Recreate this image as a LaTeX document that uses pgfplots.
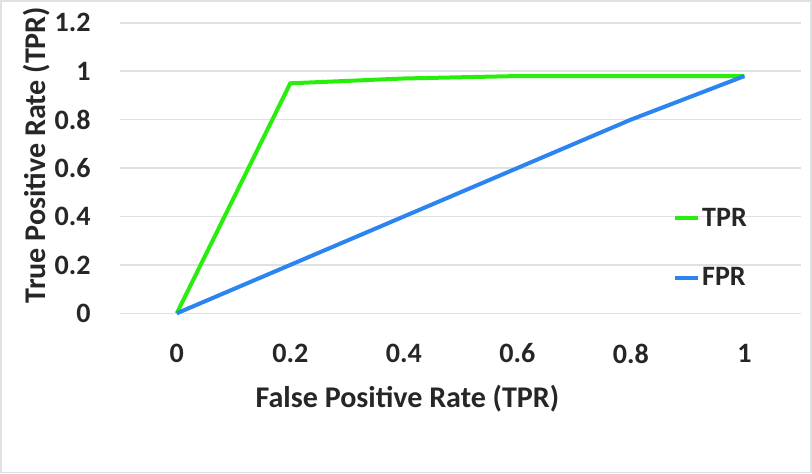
\documentclass[border=0pt]{standalone}
\usepackage{fontspec}
\setmainfont{Carlito}
\usepackage{pgfplots}
\pgfplotsset{compat=1.18}

\definecolor{tprgreen}{RGB}{40,238,12}
\definecolor{fprblue}{RGB}{44,132,240}
\definecolor{gridgray}{RGB}{222,226,226}

\begin{document}
\begin{tikzpicture}
\begin{axis}[
    scale only axis,
    width=340pt, height=145pt,
    xmin=-0.1, xmax=1.1,
    ymin=0, ymax=1.2,
    xtick={0,0.2,0.4,0.6,0.8,1},
    xticklabels={0,0.2,0.4,0.6,0.8,1},
    ytick={0,0.2,0.4,0.6,0.8,1,1.2},
    yticklabels={0,0.2,0.4,0.6,0.8,1,1.2},
    major tick length=0pt,
    axis line style={draw=none},
    ymajorgrids,
    grid style={gridgray, line width=0.75pt},
    tick label style={font=\fontsize{14}{16}\selectfont\bfseries, text=black!85},
    xticklabel style={anchor=north, inner sep=0pt, yshift=-15pt},
    yticklabel style={anchor=east, inner sep=0pt, xshift=-14.5pt},
    xlabel={False Positive Rate (TPR)},
    ylabel={True Positive Rate (TPR)},
    label style={font=\fontsize{15}{17}\selectfont\bfseries, text=black!85},
    xlabel style={at={(axis description cs:0.422,0)}, anchor=center, yshift=-42.5pt},
    ylabel style={at={(axis description cs:-0.122,0.545)}, anchor=center},
    legend style={draw=none, fill=none, inner sep=0pt, outer sep=0pt,
        at={(axis description cs:0.812,0.37)}, anchor=north west,
        font=\fontsize{14}{16}\selectfont\bfseries, text=black!85,
        row sep=17pt, nodes={inner sep=1pt}},
    legend cell align=left,
    legend image code/.code={\draw[#1, line width=2pt] (0pt,0pt) -- (11.5pt,0pt);},
    clip=false,
]
\addplot[tprgreen, line width=2pt] coordinates {
    (0,0) (0.2,0.95) (0.4,0.97) (0.6,0.98) (0.8,0.98) (1,0.98)};
\addlegendentry{TPR}
\addplot[fprblue, line width=2pt] coordinates {
    (0,0) (0.2,0.2) (0.4,0.4) (0.6,0.6) (0.8,0.8) (1,0.98)};
\addlegendentry{FPR}
\end{axis}
\draw[gridgray, line width=0.75pt]
    ([shift={(-59.5pt,-79.5pt)}]current axis.south west)
    rectangle ([shift={(5pt,156pt)}]current axis.south east);
\end{tikzpicture}
\end{document}
